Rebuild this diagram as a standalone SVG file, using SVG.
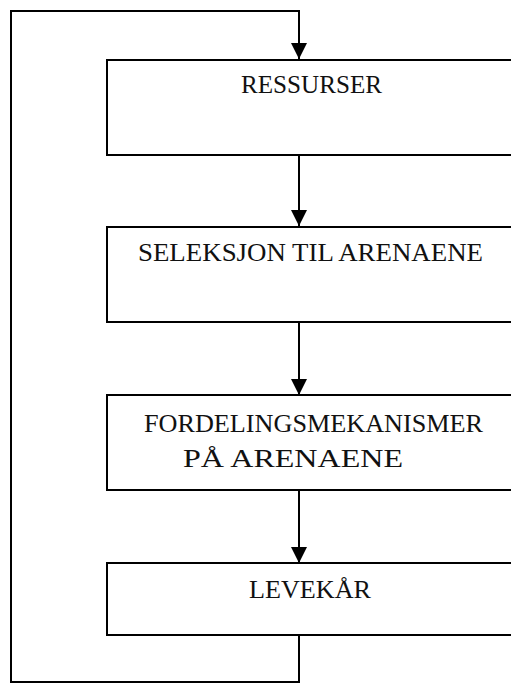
<svg xmlns="http://www.w3.org/2000/svg" width="511" height="683" viewBox="0 0 511 683">
<style>
.box{fill:#fff;stroke:#000;stroke-width:2}
.ln{fill:none;stroke:#000;stroke-width:2}
.t{font-family:"Liberation Serif",serif;font-size:25px;fill:#111}
</style>
<defs>
<marker id="ah" viewBox="0 0 16 16" refX="16" refY="8" markerWidth="16" markerHeight="16" markerUnits="userSpaceOnUse" orient="auto">
<path d="M0,0 L16,8 L0,16 z" fill="#000"/>
</marker>
</defs>
<rect width="511" height="683" fill="#fff"/>
<g id="connectors">
<path class="ln" d="M299,635 V682 H11 V11 H299 V59" marker-end="url(#ah)"/>
<path class="ln" d="M299,156 V226" marker-end="url(#ah)"/>
<path class="ln" d="M299,323 V395" marker-end="url(#ah)"/>
<path class="ln" d="M299,490 V563" marker-end="url(#ah)"/>
</g>
<g id="ressurser">
<rect class="box" x="107" y="60" width="420" height="95"/>
<text class="t" x="241" y="93" textLength="141" lengthAdjust="spacingAndGlyphs">RESSURSER</text>
</g>
<g id="seleksjon">
<rect class="box" x="107" y="227" width="420" height="95"/>
<text class="t" x="138" y="261" textLength="345" lengthAdjust="spacingAndGlyphs">SELEKSJON TIL ARENAENE</text>
</g>
<g id="fordeling">
<rect class="box" x="107" y="395" width="420" height="95"/>
<text class="t" x="144" y="432" textLength="339" lengthAdjust="spacingAndGlyphs">FORDELINGSMEKANISMER</text>
<text class="t" x="183" y="467" textLength="220" lengthAdjust="spacingAndGlyphs">PÅ ARENAENE</text>
</g>
<g id="levekar">
<rect class="box" x="107" y="563" width="420" height="72"/>
<text class="t" x="249" y="598" textLength="122" lengthAdjust="spacingAndGlyphs">LEVEKÅR</text>
</g>
</svg>
